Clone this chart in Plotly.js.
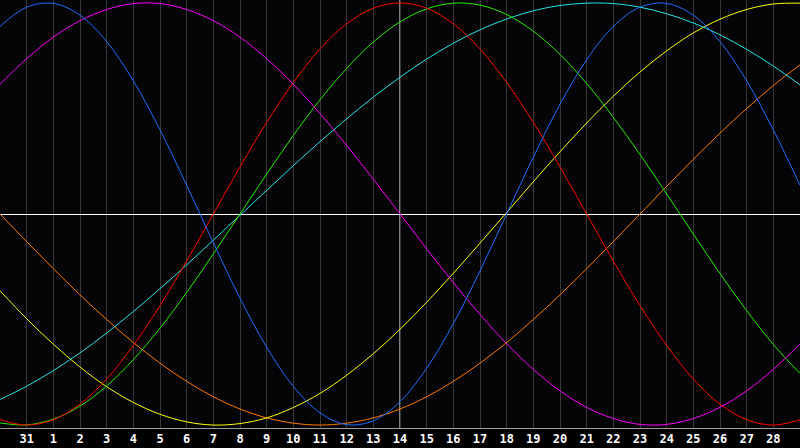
<!DOCTYPE html>
<html>
<head>
<meta charset="utf-8">
<script src="https://cdn.plot.ly/plotly-3.0.1.min.js"></script>
<style>
  html, body { margin: 0; padding: 0; background: #000; }
  #chart { width: 800px; height: 448px; }
</style>
</head>
<body>
<div id="chart"></div>
<script>
// day positions (0 = left edge) and their labels
var days = [0,1,2,3,4,5,6,7,8,9,10,11,12,13,14,15,16,17,18,19,20,21,22,23,24,25,26,27,28,29,30];
var tickPos = [1,2,3,4,5,6,7,8,9,10,11,12,13,14,15,16,17,18,19,20,21,22,23,24,25,26,27,28,29];
var tickLabels = ['31','1','2','3','4','5','6','7','8','9','10','11','12','13','14',
                  '15','16','17','18','19','20','21','22','23','24','25','26','27','28'];
var today = 15;

// curve values, one per day
var blue = [0.889,0.980,0.998,0.942,0.817,0.631,0.399,0.136,-0.136,-0.399,-0.631,-0.817,-0.942,-0.998,-0.980,
            -0.889,-0.731,-0.520,-0.270,0.000,0.270,0.520,0.731,0.889,0.980,0.998,0.942,0.817,0.631,0.399,0.136];
var magenta = [0.615,0.736,0.838,0.916,0.969,0.997,0.997,0.969,0.916,0.838,0.736,0.615,0.476,0.325,0.165,
               0.000,-0.165,-0.325,-0.476,-0.615,-0.736,-0.838,-0.916,-0.969,-0.997,-0.997,-0.969,-0.916,-0.838,-0.736,-0.615];
var red = [-0.975,-1.000,-0.975,-0.901,-0.782,-0.623,-0.434,-0.223,0.000,0.223,0.434,0.623,0.782,0.901,0.975,
           1.000,0.975,0.901,0.782,0.623,0.434,0.223,0.000,-0.223,-0.434,-0.623,-0.782,-0.901,-0.975,-1.000,-0.975];
var green = [-0.990,-0.999,-0.972,-0.910,-0.815,-0.690,-0.541,-0.372,-0.189,0.000,0.189,0.372,0.541,0.690,0.815,
             0.910,0.972,0.999,0.990,0.945,0.866,0.756,0.618,0.458,0.282,0.095,-0.095,-0.282,-0.458,-0.618,-0.756];
var cyan = [-0.879,-0.816,-0.742,-0.658,-0.564,-0.462,-0.354,-0.241,-0.124,-0.006,0.112,0.229,0.343,0.451,0.554,
            0.648,0.734,0.809,0.873,0.924,0.963,0.988,0.999,0.997,0.980,0.949,0.905,0.849,0.780,0.701,0.612];
var yellow = [-0.364,-0.496,-0.617,-0.725,-0.818,-0.893,-0.949,-0.985,-1.000,-0.993,-0.966,-0.917,-0.850,-0.764,-0.662,
              -0.546,-0.418,-0.281,-0.138,0.007,0.153,0.295,0.431,0.558,0.673,0.773,0.858,0.923,0.969,0.995,0.999];
var orange = [0.000,-0.131,-0.259,-0.383,-0.500,-0.609,-0.707,-0.793,-0.866,-0.924,-0.966,-0.991,-1.000,-0.991,-0.966,
              -0.924,-0.866,-0.793,-0.707,-0.609,-0.500,-0.383,-0.259,-0.131,0.000,0.131,0.259,0.383,0.500,0.609,0.707];

var series = [
  {y: orange,  color: '#ff7a00'},
  {y: yellow,  color: '#ffff00'},
  {y: cyan,    color: '#22e6e6'},
  {y: green,   color: '#22ee00'},
  {y: red,     color: '#ff0000'},
  {y: magenta, color: '#ff00ff'},
  {y: blue,    color: '#1e6eff'}
];

var traces = [];
for (var i in series) {
  traces.push({
    x: days,
    y: series[i].y,
    type: 'scatter',
    mode: 'lines',
    line: {color: series[i].color, width: 1, shape: 'spline', smoothing: 1},
    hoverinfo: 'skip'
  });
}

var layout = {
  width: 800,
  height: 448,
  margin: {l: 0, r: 0, t: 0, b: 20, pad: 0},
  paper_bgcolor: '#000000',
  plot_bgcolor: '#050508',
  showlegend: false,
  xaxis: {
    range: [0, 30],
    tickvals: tickPos,
    ticktext: tickLabels,
    ticks: '',
    showgrid: true,
    gridcolor: '#383838',
    gridwidth: 1,
    zeroline: false,
    showline: true,
    mirror: true,
    linecolor: '#9a9a9a',
    linewidth: 1,
    tickfont: {family: 'DejaVu Sans Mono, monospace', size: 12, color: '#ffffff', weight: 'bold'},
    fixedrange: true
  },
  yaxis: {
    range: [-1.014, 1.014],
    showgrid: false,
    showticklabels: false,
    ticks: '',
    zeroline: true,
    zerolinecolor: '#ffffff',
    zerolinewidth: 1,
    showline: true,
    linecolor: '#9a9a9a',
    linewidth: 1,
    fixedrange: true
  },
  // today marker
  shapes: [{
    type: 'line', xref: 'x', yref: 'paper',
    x0: today, x1: today, y0: 0, y1: 1,
    line: {color: '#ffffff', width: 1},
    layer: 'between'
  }]
};

Plotly.newPlot('chart', traces, layout, {displayModeBar: false, staticPlot: true});
</script>
</body>
</html>
